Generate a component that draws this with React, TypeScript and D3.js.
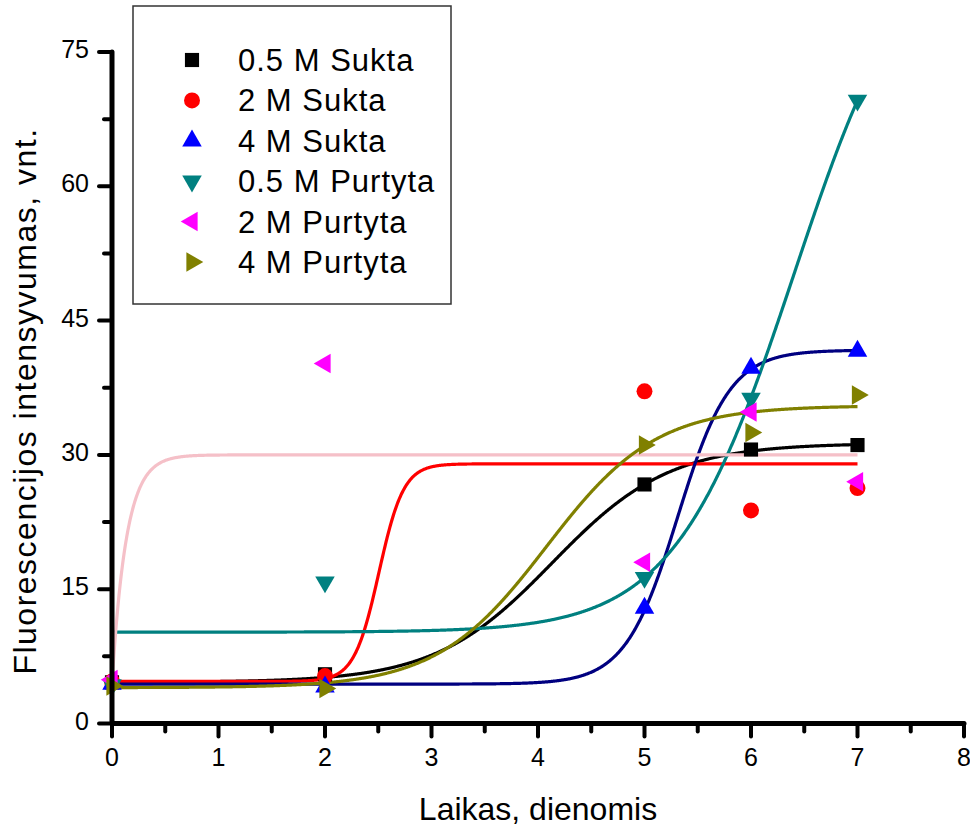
import React from 'react';
import * as d3 from 'd3';

// ---- data ----
const seriesNames = ['0.5 M Sukta', '2 M Sukta', '4 M Sukta', '0.5 M Purtyta', '2 M Purtyta', '4 M Purtyta'];
const days = [0, 2, 5, 6, 7];
const sukta05 = [4.6, 5.5, 26.7, 30.6, 31.1];
const sukta2 = [4.7, 5.3, 37.1, 23.8, 26.3];
const sukta4 = [4.4, 4.1, 12.9, 39.7, 41.6];
const purtyta05 = [4.3, 15.8, 16.3, 36.3, 69.6];
const purtyta2 = [4.9, 40.2, 18.0, 34.8, 27.0];
const purtyta4 = [4.2, 3.9, 31.1, 32.5, 36.7];
const seriesValues = [sukta05, sukta2, sukta4, purtyta05, purtyta2, purtyta4];

// fitted curve parameters (Boltzmann / exponential association)
const fitModel = ['boltzmann', 'boltzmann', 'boltzmann', 'boltzmann', 'expassoc', 'boltzmann'];
const fitA1 = [4.6, 4.7, 4.4, 10.2, 4.5, 4.0];
const fitA2 = [31.3, 29.0, 41.7, 90.2, 30.0, 35.5];
const fitX0 = [4.134, 2.506, 5.311, 6.404, 0, 4.079];
const fitDx = [0.552, 0.116, 0.246, 0.563, 0.135, 0.514];
const fitRange = [0, 7];

const xTicks = [0, 1, 2, 3, 4, 5, 6, 7, 8];
const yTicks = [0, 15, 30, 45, 60, 75];

// ---- styles ----
const markerColors = ['#000000', '#ff0000', '#0000ff', '#008080', '#ff00ff', '#808000'];
const fitColors = ['#000000', '#ff0000', '#000080', '#008080', '#f5c0c8', '#808000'];
const markerShapes = ['square', 'circle', 'up', 'down', 'left', 'right'];
const FONT = '"Liberation Sans", Arial, sans-serif';

const W = 970;
const H = 827;

function fitValue(i: number, x: number) {
  const a1 = fitA1[i], a2 = fitA2[i], x0 = fitX0[i], dx = fitDx[i];
  if (fitModel[i] === 'expassoc') return a2 - (a2 - a1) * Math.exp(-(x - x0) / dx);
  return a2 + (a1 - a2) / (1 + Math.exp((x - x0) / dx));
}

function markerPath(shape: string) {
  if (shape === 'square') return d3.symbol(d3.symbolSquare, 200)()!;
  if (shape === 'circle') return d3.symbol(d3.symbolCircle, 200)()!;
  return d3.symbol(d3.symbolTriangle, 165)()!;
}
function markerRotation(shape: string) {
  if (shape === 'down') return 180;
  if (shape === 'left') return -90;
  if (shape === 'right') return 90;
  return 0;
}

function Marker({ shape, color, x, y }: { shape: string; color: string; x: number; y: number }) {
  return (
    <path
      d={markerPath(shape)}
      fill={color}
      transform={`translate(${x},${y}) rotate(${markerRotation(shape)})`}
    />
  );
}

export default function App() {
  const x = d3.scaleLinear().domain([0, 8]).range([112, 964]);
  const y = d3.scaleLinear().domain([0, 75]).range([723.5, 52]);

  const xMinor = d3.range(0.5, 8, 1);
  const yMinor = d3.range(7.5, 75, 15);
  const xs = d3.range(fitRange[0], fitRange[1] + 0.0001, 0.005);

  const line = d3
    .line<[number, number]>()
    .x((d) => x(d[0]))
    .y((d) => y(d[1]));

  const legendX = 133, legendY = 6, legendW = 318, legendH = 298;
  const legendRow = d3.scaleLinear().domain([0, 5]).range([60, 262]);

  return (
    <svg
      width={W}
      height={H}
      style={{ position: 'absolute', left: 0, top: 0, background: '#fff' }}
      fontFamily={FONT}
    >
      <rect x={0} y={0} width={W} height={H} fill="#fff" />

      {/* fitted curves */}
      {seriesNames.map((_, i) => (
        <path
          key={'fit' + i}
          d={line(xs.map((v) => [v, fitValue(i, v)]))!}
          fill="none"
          stroke={fitColors[i]}
          strokeWidth={3.2}
        />
      ))}

      {/* points */}
      {seriesValues.map((vals, i) =>
        vals.map((v, j) => (
          <Marker key={`m${i}-${j}`} shape={markerShapes[i]} color={markerColors[i]} x={x(days[j])} y={y(v)} />
        ))
      )}

      {/* axes */}
      <g stroke="#000" strokeLinecap="round">
        <line x1={x(0)} x2={x(0)} y1={y(75)} y2={y(0)} strokeWidth={5} />
        <line x1={x(0)} x2={x(8)} y1={y(0)} y2={y(0)} strokeWidth={5} />
        {xTicks.map((t) => (
          <line key={'xt' + t} x1={x(t)} x2={x(t)} y1={y(0)} y2={y(0) + 13} strokeWidth={4} />
        ))}
        {xMinor.map((t) => (
          <line key={'xm' + t} x1={x(t)} x2={x(t)} y1={y(0)} y2={y(0) + 8} strokeWidth={4} />
        ))}
        {yTicks.map((t) => (
          <line key={'yt' + t} x1={x(0) - 13} x2={x(0)} y1={y(t)} y2={y(t)} strokeWidth={4} />
        ))}
        {yMinor.map((t) => (
          <line key={'ym' + t} x1={x(0) - 8} x2={x(0)} y1={y(t)} y2={y(t)} strokeWidth={4} />
        ))}
      </g>

      {/* tick labels */}
      <g fontSize={25} fill="#000">
        {xTicks.map((t) => (
          <text key={'xl' + t} x={x(t)} y={y(0) + 42} textAnchor="middle">
            {t}
          </text>
        ))}
        {yTicks.map((t) => (
          <text key={'yl' + t} x={89} y={y(t) + 6} textAnchor="end">
            {t}
          </text>
        ))}
      </g>

      {/* axis titles */}
      <text x={(x(0) + x(8)) / 2} y={820} textAnchor="middle" fontSize={32} fill="#000">
        Laikas, dienomis
      </text>
      <text
        transform={`translate(36, 401) rotate(-90)`}
        textAnchor="middle"
        fontSize={32}
        letterSpacing={1.5}
        fill="#000"
      >
        Fluorescencijos intensyvumas, vnt.
      </text>

      {/* legend */}
      <rect x={legendX} y={legendY} width={legendW} height={legendH} fill="#fff" stroke="#333" strokeWidth={1.5} />
      {seriesNames.map((name, i) => (
        <g key={'lg' + i}>
          <Marker shape={markerShapes[i]} color={markerColors[i]} x={192} y={legendRow(i)} />
          <text x={238} y={legendRow(i) + 11} fontSize={31} letterSpacing={1} fill="#000">
            {name}
          </text>
        </g>
      ))}
    </svg>
  );
}
